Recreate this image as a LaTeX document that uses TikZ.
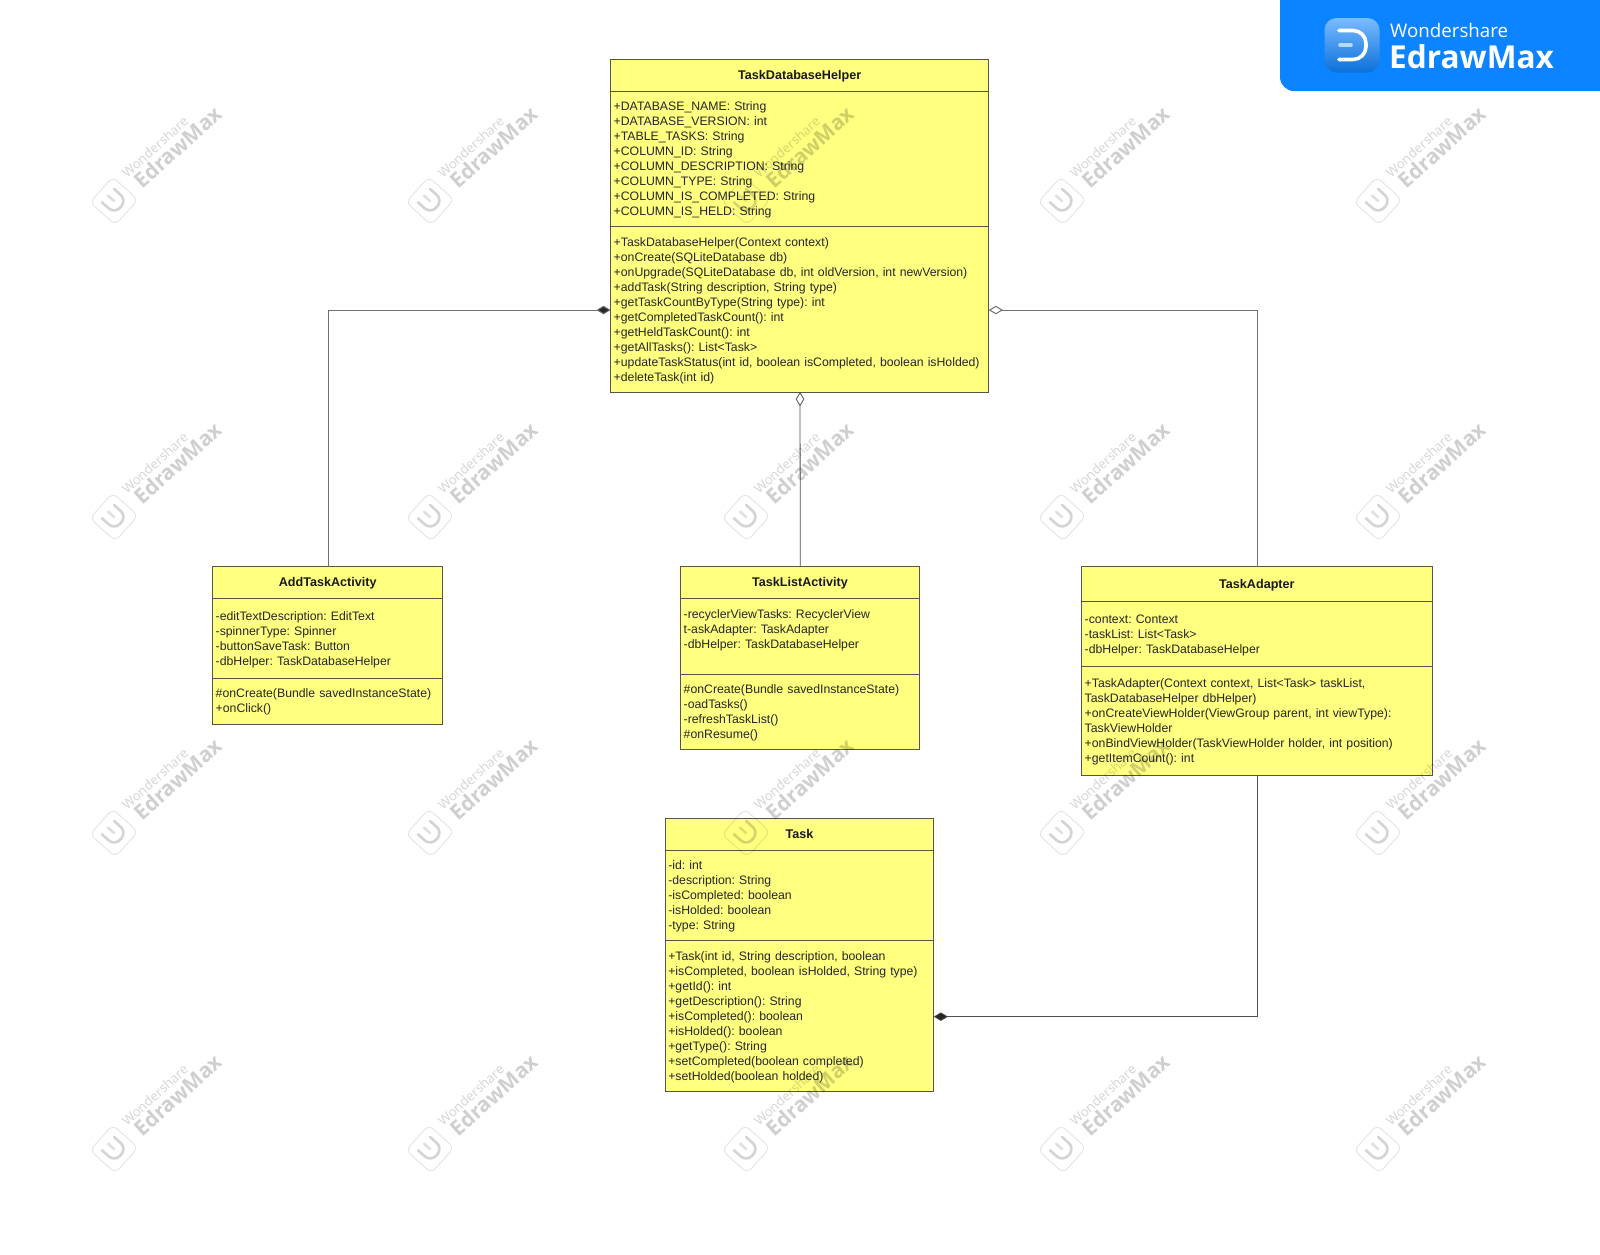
\documentclass[tikz,border=0pt]{standalone}
\usepackage{fontspec}
\setmainfont{Liberation Sans}
\newfontfamily\logofont{Open Sans}
\usetikzlibrary{arrows.meta}
\definecolor{classfill}{HTML}{FFFF80}
\definecolor{edgeclr}{HTML}{55554A}
\definecolor{linkclr}{HTML}{505050}
\definecolor{softclr}{HTML}{707070}
\definecolor{brandblue}{HTML}{0D84FF}
\frenchspacing
\tikzset{
  x=1pt,y=-1pt,
  part/.style={draw=edgeclr,fill=classfill,line width=0.9pt,anchor=north west,inner xsep=3pt,inner ysep=0pt,align=left,text=black!85,font=\fontsize{12.27}{15}\selectfont,outer sep=0pt,execute at begin node={\leavevmode\rule{0pt}{11.5pt}}},
  headpart/.style={draw=edgeclr,fill=classfill,line width=0.9pt,anchor=north west,inner sep=0pt,outer sep=0pt,text height=8.5pt,text depth=0pt,text=black!90,font=\fontsize{12.6}{15}\selectfont\bfseries},
  link/.style={draw=linkclr,line width=0.8pt},
  softlink/.style={draw=softclr,line width=1pt},
  filledend/.style={{Diamond[length=14.3pt,width=8.5pt,fill=black!85]}-},
  openend/.style={{Diamond[length=14.3pt,width=8.5pt,open,fill=white]}-},
}
% watermark with its icon centred at x,y
\newcommand{\wmark}[2]{%
  \begin{scope}[shift={(#1,#2)},rotate=-42]
    \draw[opacity=.11,line width=.9pt,rounded corners=6pt] (-17,-17) rectangle (17,17);
    \draw[opacity=.17,line width=2.6pt,line cap=round,rounded corners=8pt] (-8,-9) -- (9,-9) -- (9,9) -- (-8,9);
    \draw[opacity=.12,line width=2.6pt,line cap=round] (-8,0) -- (0,0);
  \end{scope}
  \node[opacity=.17,rotate=42,font=\logofont\fontsize{13.2}{14}\selectfont,inner sep=0pt,anchor=center] at (#1+41,#2-54) {Wondershare};
  \node[opacity=.19,rotate=42,font=\logofont\fontsize{21}{22}\selectfont\bfseries,inner sep=0pt,anchor=center] at (#1+64,#2-54) {EdrawMax};
}
\begin{document}
\begin{tikzpicture}
\useasboundingbox (0,0) rectangle (1600,1254);
\fill[white] (0,0) rectangle (1600,1254);

% TaskDatabaseHelper
\node[headpart,minimum width=378pt,minimum height=32pt] (hH) at (610.7,59) {TaskDatabaseHelper};
\node[part,minimum width=378pt,minimum height=135.7pt,text width=372pt] (hA) at (610.7,91) {+DATABASE\_NAME: String\\+DATABASE\_VERSION: int\\+TABLE\_TASKS: String\\+COLUMN\_ID: String\\+COLUMN\_DESCRIPTION: String\\+COLUMN\_TYPE: String\\+COLUMN\_IS\_COMPLETED: String\\+COLUMN\_IS\_HELD: String};
\node[part,minimum width=378pt,minimum height=165.3pt,text width=372pt] (hM) at (610.7,226.7) {+TaskDatabaseHelper(Context context)\\+onCreate(SQLiteDatabase db)\\+onUpgrade(SQLiteDatabase db, int oldVersion, int newVersion)\\+addTask(String description, String type)\\+getTaskCountByType(String type): int\\+getCompletedTaskCount(): int\\+getHeldTaskCount(): int\\+getAllTasks(): List<Task>\\+updateTaskStatus(int id, boolean isCompleted, boolean isHolded)\\+deleteTask(int id)};

% AddTaskActivity
\node[headpart,minimum width=230pt,minimum height=32pt] (aH) at (212.7,566.7) {AddTaskActivity};
\node[part,minimum width=230pt,minimum height=79.3pt,text width=224pt] (aA) at (212.7,598.7) {-editTextDescription: EditText\\-spinnerType: Spinner\\-buttonSaveTask: Button\\-dbHelper: TaskDatabaseHelper};
\node[part,minimum width=230pt,minimum height=46pt,text width=224pt] (aM) at (212.7,678) {\#onCreate(Bundle savedInstanceState)\\+onClick()};

% TaskListActivity
\node[headpart,minimum width=238.6pt,minimum height=31.6pt] (lH) at (680.7,566.7) {TaskListActivity};
\node[part,minimum width=238.6pt,minimum height=76pt,text width=232.6pt] (lA) at (680.7,598.3) {-recyclerViewTasks: RecyclerView\\t-askAdapter: TaskAdapter\\-dbHelper: TaskDatabaseHelper\\\rule[-2.6pt]{0pt}{3pt}};
\node[part,minimum width=238.6pt,minimum height=75pt,text width=232.6pt] (lM) at (680.7,674.3) {\#onCreate(Bundle savedInstanceState)\\-oadTasks()\\-refreshTaskList()\\\#onResume()};

% TaskAdapter
\node[headpart,minimum width=350.3pt,minimum height=35pt] (dH) at (1081.7,566.7) {TaskAdapter};
\node[part,minimum width=350.3pt,minimum height=65pt,text width=344.3pt] (dA) at (1081.7,601.7) {-context: Context\\-taskList: List<Task>\\-dbHelper: TaskDatabaseHelper};
\node[part,minimum width=350.3pt,minimum height=108.3pt,text width=344.3pt] (dM) at (1081.7,666.7) {+TaskAdapter(Context context, List<Task> taskList,\\TaskDatabaseHelper dbHelper)\\+onCreateViewHolder(ViewGroup parent, int viewType):\\TaskViewHolder\\+onBindViewHolder(TaskViewHolder holder, int position)\\+getItemCount(): int};

% Task
\node[headpart,minimum width=268.4pt,minimum height=32pt] (tH) at (665.3,818.3) {Task};
\node[part,minimum width=268.4pt,minimum height=90pt,text width=262.4pt] (tA) at (665.3,850.3) {-id: int\\-description: String\\-isCompleted: boolean\\-isHolded: boolean\\-type: String};
\node[part,minimum width=268.4pt,minimum height=150.7pt,text width=262.4pt] (tM) at (665.3,940.3) {+Task(int id, String description, boolean\\+isCompleted, boolean isHolded, String type)\\+getId(): int\\+getDescription(): String\\+isCompleted(): boolean\\+isHolded(): boolean\\+getType(): String\\+setCompleted(boolean completed)\\+setHolded(boolean holded)};

% Connectors
\draw[softlink,filledend] ([yshift=-0.7pt]hM.west) -| ([xshift=1pt]aH.north);
\draw[softlink,openend] ([yshift=-0.7pt]hM.east) -| ([xshift=.6pt]dH.north);
\draw[link,openend] ([xshift=.3pt]hM.south) -- ([xshift=.3pt]lH.north);
\draw[link,filledend] ([yshift=-1pt]tM.east) -| ([xshift=.6pt]dM.south);

% Watermarks
\foreach \wx in {114,430,746,1062,1378}
  \foreach \wy in {201,517,833,1149}
    {\wmark{\wx}{\wy}}

% Brand badge
\fill[brandblue,rounded corners=14pt] (1700,-50) -- (1280,-50) -- (1280,91) -- (1700,91) -- cycle;
\shade[top color=brandblue!55!white,bottom color=brandblue!85!black,rounded corners=12pt] (1324.5,18) rectangle (1379.5,72.5);
\draw[white,line width=3.6pt,line cap=round,rounded corners=13pt] (1339,30.5) -- (1366,30.5) -- (1366,59.5) -- (1339,59.5);
\draw[white!70!brandblue,line width=3.6pt,line cap=round] (1340,45) -- (1351,45);
\node[white,font=\logofont\fontsize{18.7}{20}\selectfont,anchor=west,inner sep=0pt] (brandA) at (1390,30.5) {Wondershare};
\node[white,font=\logofont\fontsize{31.6}{34}\selectfont\bfseries,anchor=west,inner sep=0pt] (brandB) at (1389,57) {EdrawMax};
\end{tikzpicture}
\end{document}
